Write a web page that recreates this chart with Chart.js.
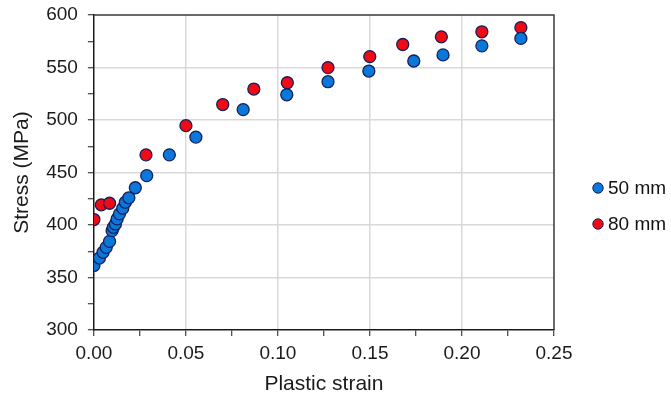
<!DOCTYPE html>
<html>
<head>
<meta charset="utf-8">
<script src="https://cdn.jsdelivr.net/npm/chart.js@4/dist/chart.umd.min.js"></script>
<style>
  html, body { margin: 0; padding: 0; background: #ffffff; }
  #wrap { width: 671px; height: 400px; }
</style>
</head>
<body>
<div id="wrap"><canvas id="c" width="671" height="400"></canvas></div>
<script>
// ---- data ----
const seriesNames = ['50 mm', '80 mm'];

const strain50 = [0.000, 0.003, 0.005, 0.0067, 0.0085, 0.0099, 0.0106, 0.0117, 0.0126, 0.0139, 0.0157, 0.0171, 0.019, 0.0225,
                  0.0287, 0.041, 0.0554, 0.0811, 0.1048, 0.1272, 0.1494, 0.1738, 0.1897, 0.2108, 0.232];
const stress50 = [361.5, 368.5, 374, 378.7, 384.4, 394.6, 397.8, 401, 405.8, 410.6, 416, 421.7, 425.9, 435.5,
                  447, 466.8, 483.7, 509.9, 524, 536.5, 546.6, 556.2, 562, 570.6, 577.7];

const strain80 = [0.000, 0.004, 0.0085, 0.0283, 0.050, 0.070, 0.0869, 0.1051, 0.1272, 0.1499, 0.1678, 0.1888, 0.2108, 0.232];
const stress80 = [405.2, 419.2, 420.7, 466.8, 494.6, 514.7, 529.5, 535.5, 549.9, 560.4, 571.9, 579.2, 584, 588];

const xTickLabels = ['0.00', '0.05', '0.10', '0.15', '0.20', '0.25'];
const yTickLabels = ['300', '350', '400', '450', '500', '550', '600'];

const toPoints = (xs, ys) => xs.map((x, i) => ({ x: x, y: ys[i] }));

const FONT = "'Liberation Sans', Arial, sans-serif";
const MARK_BORDER = '#16205a';
const colors = ['#0a78da', '#f00a14'];

// frame on top/right of the plot area
const framePlugin = {
  id: 'frame',
  afterDraw(chart) {
    const { ctx, chartArea: a } = chart;
    ctx.save();
    ctx.strokeStyle = '#3a3a3a';
    ctx.lineWidth = 1.5;
    ctx.beginPath();
    ctx.moveTo(a.left, a.top);
    ctx.lineTo(a.right, a.top);
    ctx.lineTo(a.right, a.bottom);
    ctx.stroke();
    ctx.restore();
  }
};

// legend to the right, built from the datasets
const legendPlugin = {
  id: 'sideLegend',
  afterDraw(chart) {
    const { ctx } = chart;
    ctx.save();
    chart.data.datasets.forEach((ds, i) => {
      const cy = 188 + i * 36;
      const cx = 598;
      ctx.beginPath();
      ctx.arc(cx, cy, 5.2, 0, Math.PI * 2);
      ctx.fillStyle = ds.backgroundColor;
      ctx.fill();
      ctx.lineWidth = 1;
      ctx.strokeStyle = ds.borderColor;
      ctx.stroke();
      ctx.fillStyle = '#111111';
      ctx.font = '19px ' + FONT;
      ctx.textBaseline = 'middle';
      ctx.textAlign = 'left';
      ctx.fillText(ds.label, cx + 10, cy + 1);
    });
    ctx.restore();
  }
};

const isMajorX = v => Math.round(v * 1000) % 50 === 0;
const isMajorY = v => Math.round(v) % 50 === 0;

new Chart(document.getElementById('c'), {
  type: 'scatter',
  data: {
    datasets: [
      {
        label: seriesNames[0],
        data: toPoints(strain50, stress50),
        backgroundColor: colors[0],
        borderColor: MARK_BORDER,
        borderWidth: 1.3,
        pointRadius: 6,
        pointHoverRadius: 6
      },
      {
        label: seriesNames[1],
        data: toPoints(strain80, stress80),
        backgroundColor: colors[1],
        borderColor: MARK_BORDER,
        borderWidth: 1.3,
        pointRadius: 6,
        pointHoverRadius: 6
      }
    ]
  },
  options: {
    responsive: false,
    animation: false,
    devicePixelRatio: 1,
    layout: { padding: { left: 10, right: 117, top: 15, bottom: 3 } },
    plugins: {
      legend: { display: false },
      tooltip: { enabled: false }
    },
    scales: {
      x: {
        type: 'linear',
        min: 0,
        max: 0.25,
        border: { display: true, color: '#1a1a1a', width: 1.5 },
        grid: {
          color: ctx => (isMajorX(ctx.tick.value) && ctx.tick.value > 0.001 && ctx.tick.value < 0.249) ? '#d9d9d9' : 'rgba(0,0,0,0)',
          lineWidth: 1.5,
          drawTicks: true,
          tickLength: 6,
          tickColor: '#1a1a1a',
          tickWidth: 1
        },
        ticks: {
          stepSize: 0.025,
          autoSkip: false,
          maxRotation: 0,
          padding: 6,
          color: '#1a1a1a',
          font: { size: 19, family: FONT },
          callback: v => isMajorX(v) ? xTickLabels[Math.round(v * 1000) / 50] : ''
        },
        title: {
          display: true,
          text: 'Plastic strain',
          color: '#1a1a1a',
          font: { size: 21, family: FONT },
          padding: { top: 1, bottom: 0 }
        }
      },
      y: {
        type: 'linear',
        min: 300,
        max: 600,
        afterFit: s => { s.paddingTop = 0; s.paddingBottom = 0; },
        border: { display: true, color: '#1a1a1a', width: 1.5 },
        grid: {
          color: ctx => (isMajorY(ctx.tick.value) && ctx.tick.value > 300 && ctx.tick.value < 600) ? '#d9d9d9' : 'rgba(0,0,0,0)',
          lineWidth: 1.5,
          drawTicks: true,
          tickLength: 6,
          tickColor: '#1a1a1a',
          tickWidth: 1
        },
        ticks: {
          stepSize: 25,
          autoSkip: false,
          padding: 10,
          color: '#1a1a1a',
          font: { size: 19, family: FONT },
          callback: v => isMajorY(v) ? yTickLabels[(Math.round(v) - 300) / 50] : ''
        },
        title: {
          display: true,
          text: 'Stress (MPa)',
          color: '#1a1a1a',
          font: { size: 21, family: FONT },
          padding: { top: 0, bottom: 1 }
        }
      }
    }
  },
  plugins: [framePlugin, legendPlugin]
});
</script>
</body>
</html>
